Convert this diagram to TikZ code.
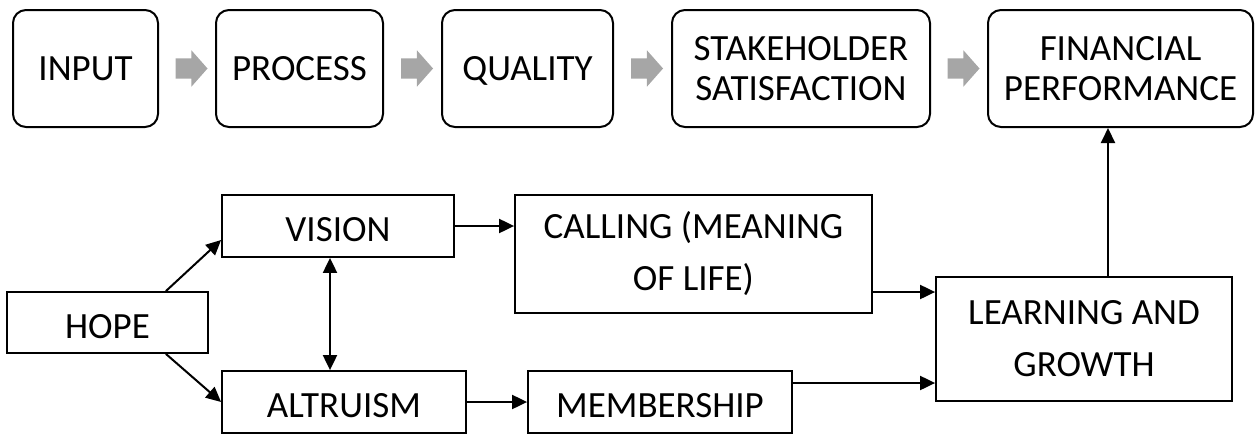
\documentclass[tikz,border=0pt]{standalone}
\usepackage{fontspec}
\setmainfont{Carlito}
\usepackage{tikz}
\usetikzlibrary{arrows.meta, shapes.arrows, calc}
\definecolor{arrowgray}{RGB}{166,166,166}

\begin{document}
\begin{tikzpicture}[x=1pt, y=-1pt,
    topbox/.style={draw, line width=2pt, rounded corners=13pt, align=center,
      inner sep=0pt, minimum height=117pt, font=\fontsize{37}{40}\selectfont},
    box/.style={draw, line width=1.8pt, align=center, inner sep=0pt,
      font=\fontsize{37}{52}\selectfont},
    topline/.style={text height=27pt, text depth=3.6pt},
    oneline/.style={text height=31pt, text depth=0pt},
    link/.style={line width=2pt, -{Triangle[length=15pt, width=14pt]}},
    dlink/.style={line width=2pt, {Triangle[length=15pt, width=14pt]}-{Triangle[length=15pt, width=14pt]}},
    grayarrow/.style={single arrow, fill=arrowgray, draw=none, minimum height=32pt,
      inner xsep=0pt, inner ysep=10pt, single arrow head extend=8pt,
      single arrow tip angle=97}]

      \useasboundingbox (0,0) rectangle (1255,434);

      \node[topbox, topline, minimum width=145pt] (input) at (85.5,68.5){INPUT};
      \node[topbox, topline, minimum width=167pt] (process) at (299.5,68.5){PROCESS};
      \node[topbox, topline, minimum width=171pt] (quality) at (527.5,68.5){QUALITY};
      \node[topbox, minimum width=258pt] (stake) at (801,68.5){STAKEHOLDER\\SATISFACTION};
      \node[topbox, minimum width=265pt] (financial) at (1120.5,68.5){FINANCIAL\\PERFORMANCE};

      \foreach \a/\b [count=\i] in {input/process, process/quality, quality/stake, stake/financial}
        \node[grayarrow] (g\i) at ($(\a.east)!0.5!(\b.west)$){};

      \node[box, oneline, minimum width=201pt, minimum height=61pt] (hope) at (107.5,322.5){HOPE};
      \node[box, oneline, minimum width=232pt, minimum height=62pt] (vision) at (338,226){VISION};
      \node[box, oneline, minimum width=244pt, minimum height=62pt] (altruism) at (344,402){ALTRUISM};
      \node[box, minimum width=357pt, minimum height=118pt] (calling) at (693.5,254){CALLING (MEANING\\OF LIFE)};
      \node[box, oneline, minimum width=264pt, minimum height=62pt] (membership) at (660,402){MEMBERSHIP};
      \node[box, minimum width=296pt, minimum height=124pt] (learning) at (1084,339){LEARNING AND\\GROWTH};

      \coordinate (vx) at ([xshift=-8pt]vision.south);
      \coordinate (cl) at ([yshift=-38pt]calling.east);
      \coordinate (ml) at ([yshift=19pt]membership.east);
      \coordinate (lf) at ([xshift=24pt]learning.north);

      \draw[link] ([xshift=-43pt]hope.north east) -- ([yshift=-14pt]vision.west);
      \draw[link] ([xshift=-43pt]hope.south east) -- (altruism.west);
      \draw[dlink] (vx) -- (vx |- altruism.north);
      \draw[link] (vision.east) -- (vision.east -| calling.west);
      \draw[link] (altruism.east) -- (membership.west);
      \draw[link] (cl) -- (cl -| learning.west);
      \draw[link] (ml) -- (ml -| learning.west);
      \draw[link] (lf) -- (lf |- financial.south);
    \end{tikzpicture}
\end{document}
